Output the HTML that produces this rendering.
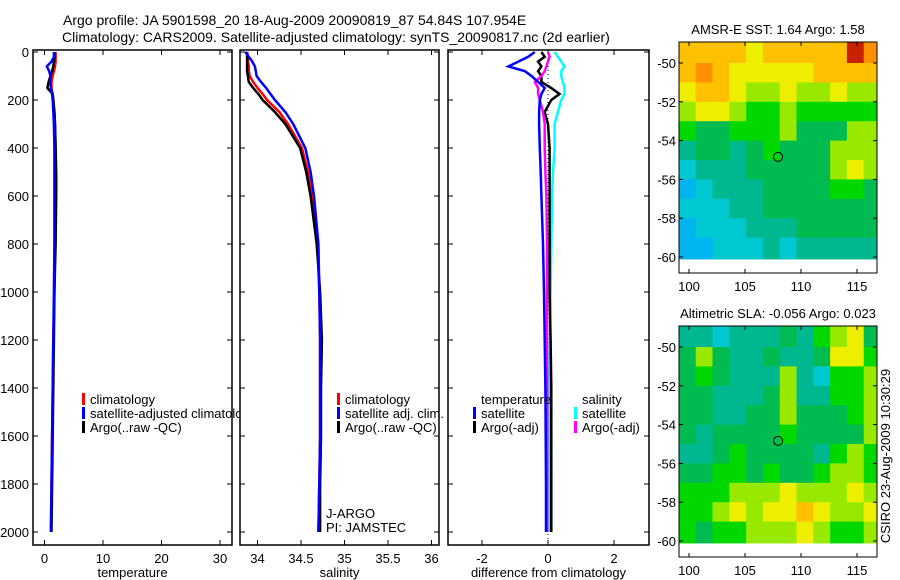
<!DOCTYPE html>
<html><head><meta charset="utf-8"><style>
body{margin:0;background:#fff}
svg{display:block;font-family:"Liberation Sans",sans-serif}
</style></head><body>
<svg id="c" width="900" height="580" viewBox="0 0 900 580">
<defs><clipPath id="clip1"><rect x="33" y="40" width="207" height="520"/></clipPath></defs>
</svg>
<script>
// ---------- data ----------
const depths   = [0,20,40,60,80,100,125,150,175,200,250,300,400,500,600,800,1000,1200,1400,1600,1800,2000];
const tempClim = [1.9,1.9,1.9,1.8,1.6,1.4,1.2,1.2,1.4,1.5,1.7,1.8,1.9,1.9,1.9,1.8,1.7,1.5,1.4,1.3,1.2,1.1];
const tempSat  = [1.6,1.6,1.2,0.4,0.8,1.0,1.0,1.1,1.3,1.4,1.5,1.6,1.7,1.7,1.7,1.7,1.6,1.5,1.4,1.3,1.2,1.1];
const tempArgo = [1.7,1.8,1.6,1.5,1.3,1.0,0.7,0.5,1.4,1.5,1.7,1.8,1.9,2.0,2.0,1.9,1.7,1.6,1.5,1.4,1.3,1.2];
const salClim  = [33.88,33.89,33.89,33.90,33.90,33.91,33.95,34.00,34.06,34.11,34.25,34.35,34.51,34.58,34.63,34.69,34.71,34.72,34.72,34.72,34.71,34.70];
const salSat   = [33.86,33.90,33.94,33.97,33.98,33.99,34.04,34.10,34.15,34.20,34.32,34.41,34.55,34.61,34.65,34.70,34.71,34.72,34.72,34.72,34.71,34.70];
const salArgo  = [33.88,33.88,33.88,33.88,33.88,33.89,33.90,33.95,34.01,34.06,34.20,34.32,34.49,34.56,34.61,34.68,34.72,34.74,34.73,34.73,34.72,34.72];
const dTempSat  = [-0.4,-0.6,-0.9,-1.2,-0.7,-0.5,-0.3,-0.1,-0.2,-0.25,-0.27,-0.27,-0.25,-0.22,-0.2,-0.15,-0.12,-0.1,-0.08,-0.07,-0.06,-0.06];
const dTempArgo = [-0.2,-0.1,-0.3,-0.2,-0.3,-0.2,-0.2,0.1,0.35,0.1,-0.1,0.0,0.05,0.05,0.05,0.05,0.05,0.08,0.1,0.1,0.1,0.1];
const dSalSat   = [0.2,0.3,0.4,0.5,0.4,0.4,0.45,0.5,0.5,0.4,0.3,0.2,0.2,0.15,0.12,0.1,0.08,0.06,0.05,0.04,0.03,0.03];
const dSalArgo  = [0.0,0.05,0.0,-0.05,-0.1,-0.2,-0.4,-0.3,-0.3,-0.25,-0.15,-0.1,-0.1,-0.08,-0.05,-0.03,-0.03,-0.03,-0.02,-0.02,-0.02,-0.02];
const depthTicks = [0,200,400,600,800,1000,1200,1400,1600,1800,2000];
const tempTicks = [0,10,20,30];
const salTicks = [34,34.5,35,35.5,36];
const diffTicks = [-2,0,2];
const latTicks = [-50,-52,-54,-56,-58,-60];
const lonTicks = [100,105,110,115];
const gridLats = [-49,-50,-51,-52,-53,-54,-55,-56,-57,-58,-59];
const gridLons = [99.1,100.6,102.1,103.6,105.1,106.6,108.1,109.6,111.1,112.6,114.1,115.6];
const sstGrid = [
[8,8,8,8,7,8,8,8,8,8,10,9],[8,9,8,7,7,7,7,7,8,8,8,8],[7,8,8,7,6,6,7,6,6,7,6,6],
[6,7,7,6,5,5,6,5,5,5,5,5],[5,4,4,5,5,5,6,4,4,4,6,6],[3,4,4,3,4,5,4,4,4,6,6,6],
[2,3,3,3,4,4,4,4,4,6,7,6],[1,2,3,3,3,4,4,4,4,5,5,4],[2,2,2,3,3,4,4,4,4,4,4,4],
[1,2,2,2,3,3,3,4,4,4,4,4],[1,1,2,2,2,3,2,3,3,3,3,3]];
const slaGrid = [
[3,3,2,3,3,3,4,3,5,6,7,4],[4,6,4,3,3,4,3,3,4,7,7,5],[4,5,4,3,3,3,6,3,2,5,5,6],
[4,4,3,3,3,4,6,3,3,5,5,6],[4,4,3,3,4,4,6,4,4,4,5,6],[4,3,4,4,4,4,5,4,4,4,4,6],
[3,3,4,5,4,4,4,4,3,5,6,5],[4,4,5,5,4,5,4,4,5,6,6,5],[5,5,5,6,6,6,7,6,6,6,7,6],
[5,5,6,7,6,7,7,8,7,6,6,7],[5,4,5,5,6,6,6,7,6,5,5,6]];
const argoLon = 107.954, argoLat = -54.84;

// ---------- helpers ----------
const NS="http://www.w3.org/2000/svg", svg=document.getElementById('c');
function mk(tag,attrs,parent){const e=document.createElementNS(NS,tag);for(const k in attrs)e.setAttribute(k,attrs[k]);(parent||svg).appendChild(e);return e;}
function txt(s,x,y,anchor,size,parent){const t=mk('text',{x:x,y:y,'text-anchor':anchor||'start','font-size':size||13,fill:'#000'},parent);t.textContent=s;return t;}
const PT=50;
const yD = d => 52 + d*0.24;

function panel(name,x0,x1,xs,ticks,label,showY){
  const g=mk('g',{});
  
  
  mk('rect',{x:x0,y:PT,width:x1-x0,height:545-PT,fill:'none',stroke:'#000','stroke-width':1.5},g);
  ticks.forEach(v=>{const x=xs(v);mk('line',{x1:x,x2:x,y1:545,y2:540,stroke:'#000'},g);mk('line',{x1:x,x2:x,y1:PT,y2:PT+5,stroke:'#000'},g);
    const t=txt(String(v),x,563,'middle',13,g);});
  depthTicks.forEach(d=>{const y=yD(d);mk('line',{x1:x0,x2:x0+5,y1:y,y2:y,stroke:'#000'},g);mk('line',{x1:x1-5,x2:x1,y1:y,y2:y,stroke:'#000'},g);
    if(showY){const t=txt(String(d),29,y+5,'end',13,g);}});
  const l=txt(label,(x0+x1)/2,577,'middle',13,g);
  
  
  return g;
}
function series(g,name,vals,xs,color,w){
  let d='';depths.forEach((dp,i)=>{const x=xs(vals[i]),y=yD(dp);d+=(i?'L':'M')+x.toFixed(1)+' '+y.toFixed(1);});
  const p=mk('path',{d:d,fill:'none',stroke:color,'stroke-width':w||2.5},g);
  
  
}
function legend(g,items,x,y){
  items.forEach((it,i)=>{
    const r=mk('rect',{x:x,y:y+i*14-11,width:3,height:12,fill:it[1]},g);
    
    
    const t=txt(it[0],x+8,y+i*14,'start',13,g);
    
    
  });
}

// titles
let t1=txt('Argo profile: JA 5901598_20 18-Aug-2009 20090819_87 54.84S 107.954E',63,25,'start',14);


let t2=txt('Climatology: CARS2009. Satellite-adjusted climatology: synTS_20090817.nc (2d earlier)',62,42,'start',14);



// panel 1: temperature
const xT = v => 44.5 + v*5.85;
const g1=panel('temperature-panel',33,232,xT,tempTicks,'temperature',true);
series(g1,'temp-climatology-line',tempClim,xT,'#f00');
series(g1,'temp-argo-line',tempArgo,xT,'#000');
series(g1,'temp-satellite-line',tempSat,xT,'#00f');
const lg1=mk('g',{'clip-path':'url(#clip1)'},g1);


legend(lg1,[['climatology','#f00'],['satellite-adjusted climatology','#00f'],['Argo(..raw -QC)','#000']],82,404);

// panel 2: salinity
const xS = v => 257.5 + (v-34)*87;
const g2=panel('salinity-panel',240,439,xS,salTicks,'salinity',false);
series(g2,'sal-climatology-line',salClim,xS,'#f00');
series(g2,'sal-argo-line',salArgo,xS,'#000');
series(g2,'sal-satellite-line',salSat,xS,'#00f');
legend(g2,[['climatology','#f00'],['satellite adj. clim.','#00f'],['Argo(..raw -QC)','#000']],337,404);
let j1=txt('J-ARGO',326,518,'start',13,g2);
let j2=txt('PI: JAMSTEC',326,532,'start',13,g2);

// panel 3: differences
const xDf = v => 548 + v*33;
const g3=panel('difference-panel',448,649,xDf,diffTicks,'difference from climatology',false);
const zl=mk('line',{x1:xDf(0),x2:xDf(0),y1:PT,y2:545,stroke:'#000','stroke-dasharray':'1 3'},g3);


series(g3,'diff-sal-satellite-line',dSalSat,xDf,'#0ff');
series(g3,'diff-temp-argo-line',dTempArgo,xDf,'#000');
series(g3,'diff-sal-argo-line',dSalArgo,xDf,'#f0f');
series(g3,'diff-temp-satellite-line',dTempSat,xDf,'#00f');
let lt=txt('temperature',481,404,'start',13,g3);
let ls=txt('salinity',582,404,'start',13,g3);
legend(g3,[['satellite','#00f'],['Argo(-adj)','#000']],473,418);
legend(g3,[['satellite','#0ff'],['Argo(-adj)','#f0f']],574,418);

// maps
const cmapC=['#00a8ff','#00b4f0','#00c8d0','#00b890','#00bb50','#00d800','#99e800','#eeee00','#ffc000','#ff9000','#c82000'];
function map(name,top,grid,title,latY50,latY60){
  const g=mk('g',{});
  
  
  const L=679,R=877,bot=top+231;
  const ppdLat=(latY60-latY50)/10;
  const xL=lon=>689+(lon-100)*11.2, yL=lat=>latY50+(-50-lat)*ppdLat;
  const yTop=top;
  grid.forEach((row,ri)=>row.forEach((v,ci)=>{
    const x=xL(gridLons[ci]), y=ri===0?yTop:yL(gridLats[ri]);
    const y2=ri===grid.length-1?yL(-60.1):yL(gridLats[ri]-1);
    const x2=ci===row.length-1?R:xL(gridLons[ci]+1.5);
    const c=mk('rect',{x:x,y:y,width:x2-x+0.5,height:y2-y+0.5,fill:cmapC[v]},g);
    
    
  }));
  mk('rect',{x:L,y:top,width:R-L,height:bot-top,fill:'none',stroke:'#000'},g);
  latTicks.forEach(l=>{const y=yL(l);mk('line',{x1:L,x2:L+4,y1:y,y2:y,stroke:'#000'},g);mk('line',{x1:R-4,x2:R,y1:y,y2:y,stroke:'#000'},g);
    const t=txt(String(l),676,y+5,'end',13,g);});
  lonTicks.forEach(l=>{const x=xL(l);mk('line',{x1:x,x2:x,y1:bot,y2:bot-4,stroke:'#000'},g);mk('line',{x1:x,x2:x,y1:top,y2:top+4,stroke:'#000'},g);
    const t=txt(String(l),x,bot+18,'middle',13,g);});
  const tt=txt(title,(L+R)/2,top-8,'middle',13,g);
  
  
  const m=mk('circle',{cx:xL(argoLon),cy:yL(argoLat),r:4.5,fill:'none',stroke:'#000','stroke-width':1},g);
  
  
}
map('sst-map',42,sstGrid,'AMSR-E SST: 1.64 Argo: 1.58',63,257);
map('sla-map',326,slaGrid,'Altimetric SLA: -0.056 Argo: 0.023',347,541);

const st=txt('CSIRO 23-Aug-2009 10:30:29',0,0,'middle',13);
st.setAttribute('transform','translate(890,456) rotate(-90)');


</script>
</body></html>
